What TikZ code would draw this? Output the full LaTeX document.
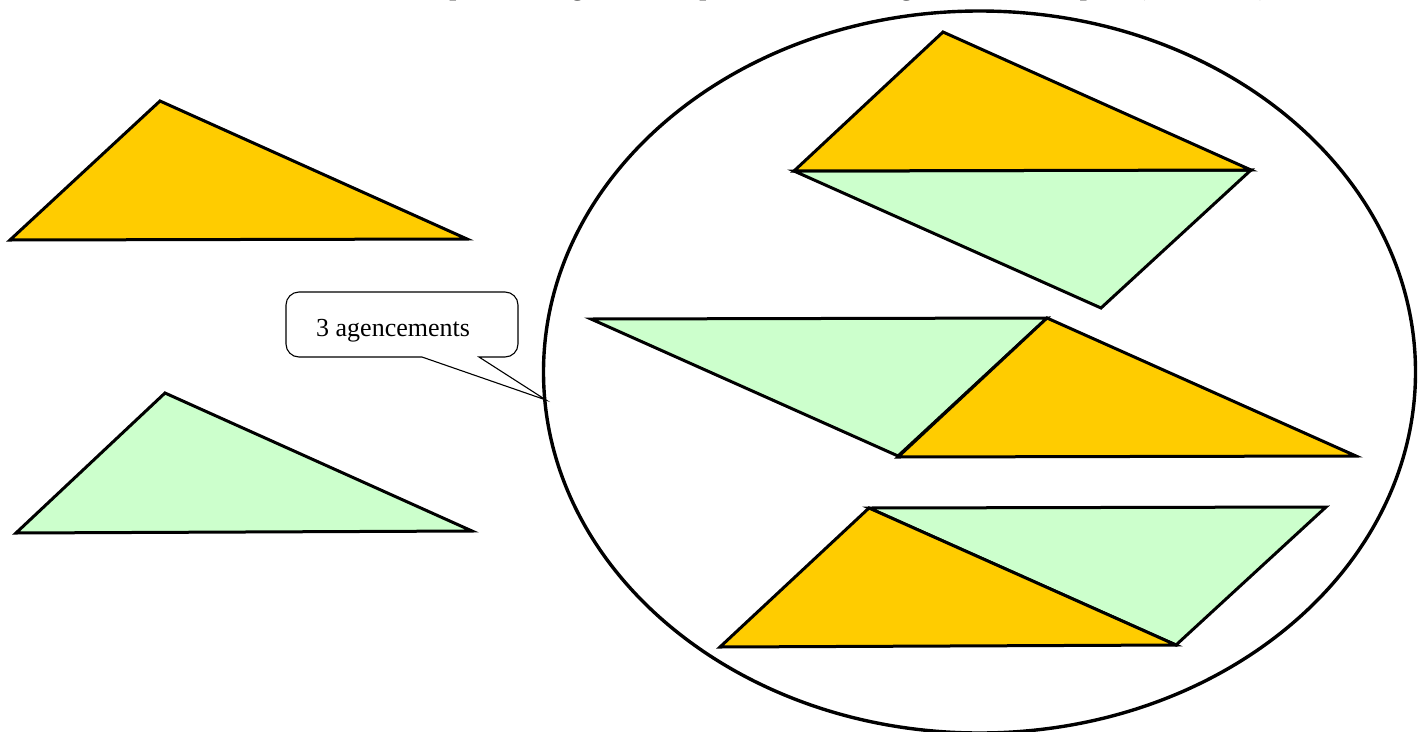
\documentclass[tikz,border=0pt]{standalone}
\usepackage{fontspec}
\setmainfont{Liberation Serif}
\definecolor{orangefill}{RGB}{255,204,0}
\definecolor{greenfill}{RGB}{204,255,204}
\begin{document}
\begin{tikzpicture}[x=1pt,y=-1pt,
  tri/.style={draw=black,line width=3pt,line join=miter},
  orangetri/.style={tri,fill=orangefill},
  greentri/.style={tri,fill=greenfill},
  callout/.style={draw=black,line width=1.1pt,fill=white,rounded corners=13pt},
  ring/.style={draw=black,line width=3.4pt}]
\useasboundingbox (0,0) rectangle (1427,731);
% title (mostly cut off at the top edge)
\node[anchor=base west,inner sep=0pt,font=\bfseries\fontsize{25}{29}\selectfont] (title) at (388,-5)
  {Exemple de triangles accolés par les côtés de longueur commune pour (3 solutions)};
% ellipse
\draw[ring] (979.5,372) ellipse [x radius=436,y radius=361];
% left triangles
\draw[orangetri] (10,240) -- (160,101) -- (467,239) -- cycle;
\draw[greentri] (16,533) -- (165,393) -- (472,531) -- cycle;
% top pair
\draw[greentri] (794,171) -- (1251,170) -- (1101,308) -- cycle;
\draw[orangetri] (794,171) -- (943,32) -- (1251,170) -- cycle;
% middle pair
\draw[greentri] (591,319) -- (1047,318) -- (898,456) -- cycle;
\draw[orangetri] (898,457) -- (1047,318) -- (1356,456) -- cycle;
% bottom pair
\draw[greentri] (869,508) -- (1326,507) -- (1176,645) -- cycle;
\draw[orangetri] (720,647) -- (869,508) -- (1176,645) -- cycle;
% callout
\coordinate (tip) at (546,400);
\draw[callout] (422,357) -- (286,357) -- (286,292) -- (518,292) -- (518,357) [sharp corners] -- (479,357) -- (tip) -- (422,357);
\node[font=\fontsize{26}{30}\selectfont,inner sep=0pt,anchor=base west] (lab) at (316,336) {3 agencements};
\end{tikzpicture}
\end{document}
